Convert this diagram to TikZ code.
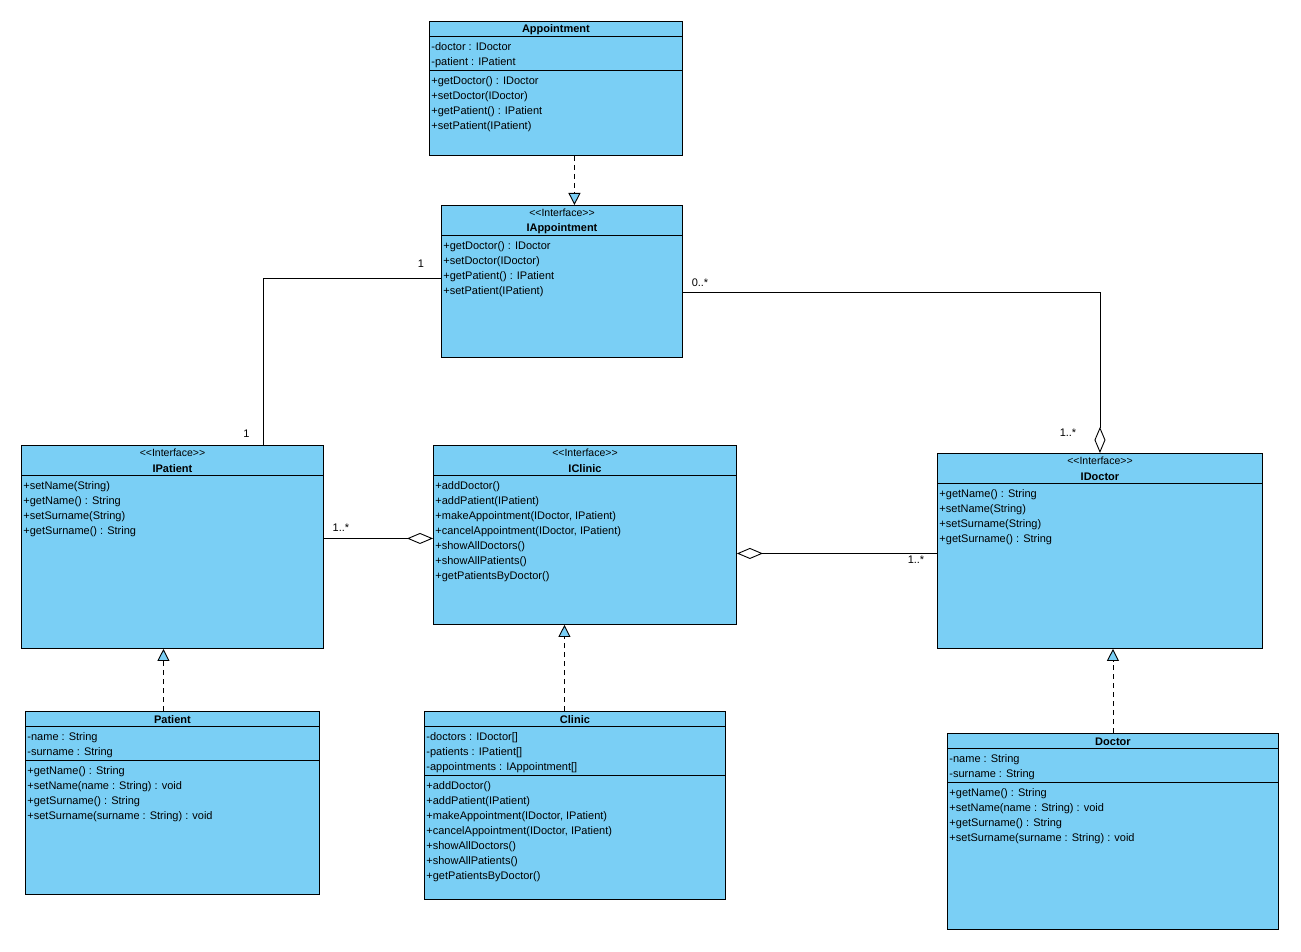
\documentclass[tikz,border=0pt]{standalone}
\usepackage{fontspec}
\setmainfont{Liberation Sans}[Ligatures=TeXOff]
\usetikzlibrary{arrows.meta}
\definecolor{classblue}{HTML}{7ACFF5}

\begin{document}
\begin{tikzpicture}[x=1pt,y=-1pt,line width=0.9pt,
    classbox/.style={draw,fill=classblue,anchor=north west,inner sep=0pt},
    classname/.style={font=\fontsize{11}{15}\selectfont\bfseries,anchor=base,inner sep=0pt},
    stereo/.style={font=\fontsize{10.5}{15}\selectfont,anchor=base,inner sep=0pt},
    members/.style={font=\fontsize{11}{15}\selectfont,anchor=north west,align=left,inner sep=0pt},
    mult/.style={font=\fontsize{11}{15}\selectfont,inner sep=0pt},
    realize/.style={dash pattern=on 5pt off 4pt,-{Triangle[fill=classblue,length=12pt,width=12pt]}},
    aggr/.style={{Diamond[fill=white,length=26pt,width=11pt]}-}
]
\path[use as bounding box,fill=white] (0,0) rectangle (1301,952);

% Appointment
\node[classbox,minimum width=253pt,minimum height=134pt] (appt) at (429,21) {};
\node[classname] (appt-name) at ([yshift=-12pt]appt.north) {Appointment};
\draw ([yshift=-15pt]appt.north west) -- ([yshift=-15pt]appt.north east);
\node[members] (appt-attr) at ([xshift=2pt,yshift=-21pt]appt.north west) {-doctor : IDoctor\\-patient : IPatient};
\draw ([yshift=-49pt]appt.north west) -- ([yshift=-49pt]appt.north east);
\node[members] (appt-ops) at ([xshift=2pt,yshift=-55pt]appt.north west) {+getDoctor() : IDoctor\\+setDoctor(IDoctor)\\+getPatient() : IPatient\\+setPatient(IPatient)};

% IAppointment
\node[classbox,minimum width=241pt,minimum height=152pt] (iappt) at (441,205) {};
\node[stereo] (iappt-st) at ([yshift=-11.5pt]iappt.north) {<<Interface>>};
\node[classname] (iappt-name) at ([yshift=-27pt]iappt.north) {IAppointment};
\draw ([yshift=-30.5pt]iappt.north west) -- ([yshift=-30.5pt]iappt.north east);
\node[members] (iappt-ops) at ([xshift=2pt,yshift=-36.5pt]iappt.north west) {+getDoctor() : IDoctor\\+setDoctor(IDoctor)\\+getPatient() : IPatient\\+setPatient(IPatient)};

% IPatient
\node[classbox,minimum width=302pt,minimum height=203pt] (ipat) at (21,445) {};
\node[stereo] (ipat-st) at ([yshift=-11.5pt]ipat.north) {<<Interface>>};
\node[classname] (ipat-name) at ([yshift=-27pt]ipat.north) {IPatient};
\draw ([yshift=-30.5pt]ipat.north west) -- ([yshift=-30.5pt]ipat.north east);
\node[members] (ipat-ops) at ([xshift=2pt,yshift=-36.5pt]ipat.north west) {+setName(String)\\+getName() : String\\+setSurname(String)\\+getSurname() : String};

% IClinic
\node[classbox,minimum width=303pt,minimum height=179pt] (iclin) at (433,445) {};
\node[stereo] (iclin-st) at ([yshift=-11.5pt]iclin.north) {<<Interface>>};
\node[classname] (iclin-name) at ([yshift=-27pt]iclin.north) {IClinic};
\draw ([yshift=-30.5pt]iclin.north west) -- ([yshift=-30.5pt]iclin.north east);
\node[members] (iclin-ops) at ([xshift=2pt,yshift=-36.5pt]iclin.north west) {+addDoctor()\\+addPatient(IPatient)\\+makeAppointment(IDoctor, IPatient)\\+cancelAppointment(IDoctor, IPatient)\\+showAllDoctors()\\+showAllPatients()\\+getPatientsByDoctor()};

% IDoctor
\node[classbox,minimum width=325pt,minimum height=195pt] (idoc) at (937,453) {};
\node[stereo] (idoc-st) at ([yshift=-11.5pt]idoc.north) {<<Interface>>};
\node[classname] (idoc-name) at ([yshift=-27pt]idoc.north) {IDoctor};
\draw ([yshift=-30.5pt]idoc.north west) -- ([yshift=-30.5pt]idoc.north east);
\node[members] (idoc-ops) at ([xshift=2pt,yshift=-36.5pt]idoc.north west) {+getName() : String\\+setName(String)\\+setSurname(String)\\+getSurname() : String};

% Patient
\node[classbox,minimum width=294pt,minimum height=183pt] (pat) at (25,711) {};
\node[classname] (pat-name) at ([yshift=-12pt]pat.north) {Patient};
\draw ([yshift=-15pt]pat.north west) -- ([yshift=-15pt]pat.north east);
\node[members] (pat-attr) at ([xshift=2pt,yshift=-21pt]pat.north west) {-name : String\\-surname : String};
\draw ([yshift=-49pt]pat.north west) -- ([yshift=-49pt]pat.north east);
\node[members] (pat-ops) at ([xshift=2pt,yshift=-55pt]pat.north west) {+getName() : String\\+setName(name : String) : void\\+getSurname() : String\\+setSurname(surname : String) : void};

% Clinic
\node[classbox,minimum width=301pt,minimum height=188pt] (clin) at (424,711) {};
\node[classname] (clin-name) at ([yshift=-12pt]clin.north) {Clinic};
\draw ([yshift=-15pt]clin.north west) -- ([yshift=-15pt]clin.north east);
\node[members] (clin-attr) at ([xshift=2pt,yshift=-21pt]clin.north west) {-doctors : IDoctor[]\\-patients : IPatient[]\\-appointments : IAppointment[]};
\draw ([yshift=-64pt]clin.north west) -- ([yshift=-64pt]clin.north east);
\node[members] (clin-ops) at ([xshift=2pt,yshift=-70pt]clin.north west) {+addDoctor()\\+addPatient(IPatient)\\+makeAppointment(IDoctor, IPatient)\\+cancelAppointment(IDoctor, IPatient)\\+showAllDoctors()\\+showAllPatients()\\+getPatientsByDoctor()};

% Doctor
\node[classbox,minimum width=331pt,minimum height=196pt] (doc) at (947,733) {};
\node[classname] (doc-name) at ([yshift=-12pt]doc.north) {Doctor};
\draw ([yshift=-15pt]doc.north west) -- ([yshift=-15pt]doc.north east);
\node[members] (doc-attr) at ([xshift=2pt,yshift=-21pt]doc.north west) {-name : String\\-surname : String};
\draw ([yshift=-49pt]doc.north west) -- ([yshift=-49pt]doc.north east);
\node[members] (doc-ops) at ([xshift=2pt,yshift=-55pt]doc.north west) {+getName() : String\\+setName(name : String) : void\\+getSurname() : String\\+setSurname(surname : String) : void};

% Realizations
\draw[realize] ([xshift=18.5pt]appt.south) -- ([xshift=18.5pt]appt.south |- iappt.north);
\draw[realize] ([xshift=-9pt]pat.north) -- ([xshift=-9pt]pat.north |- ipat.south);
\draw[realize] ([xshift=-10.5pt]clin.north) -- ([xshift=-10.5pt]clin.north |- iclin.south);
\draw[realize] (doc.north) -- (doc.north |- idoc.south);

% Associations
\draw ([xshift=91pt]ipat.north) |- ([yshift=3pt]iappt.west);
\draw[aggr] (idoc.north) |- ([yshift=-11pt]iappt.east);
\draw[aggr] ([yshift=-3.5pt]iclin.west) -- ([yshift=-3.5pt]iclin.west -| ipat.east);
\draw[aggr] ([yshift=-18.5pt]iclin.east) -- ([yshift=-18.5pt]iclin.east -| idoc.west);

% Multiplicities
\node[mult] (m-appt-pat) at (421,264) {1};
\node[mult] (m-pat-appt) at (246.5,434) {1};
\node[mult] (m-appt-doc) at (700,283) {0..*};
\node[mult] (m-doc-appt) at (1068,433) {1..*};
\node[mult] (m-clin-pat) at (341,528) {1..*};
\node[mult] (m-clin-doc) at (916,560) {1..*};

\end{tikzpicture}
\end{document}
